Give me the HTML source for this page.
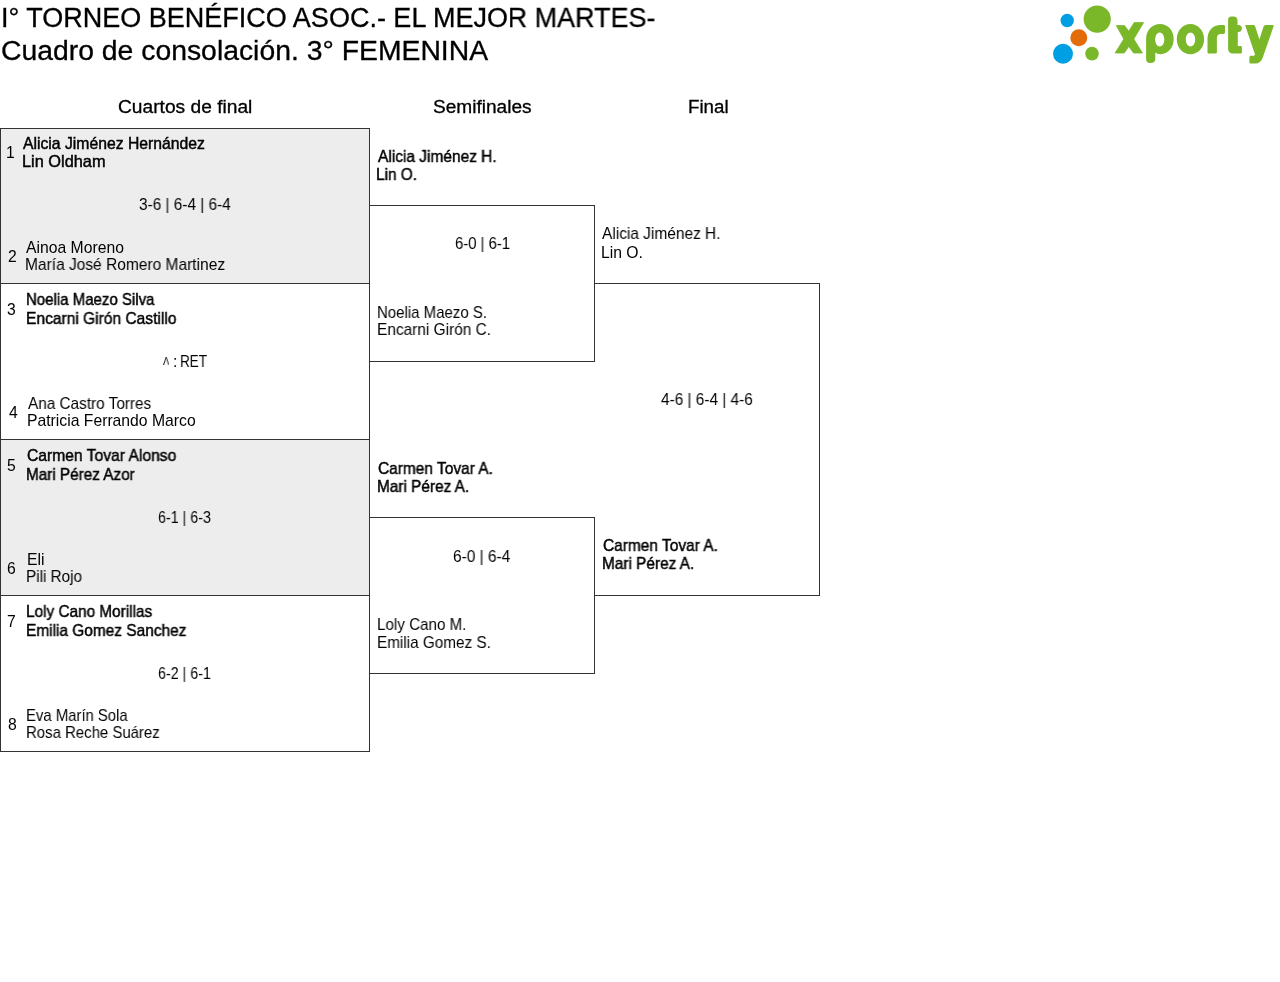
<!DOCTYPE html>
<html><head><meta charset="utf-8"><title>Cuadro de consolación</title>
<style>
html,body{margin:0;padding:0;background:#fff;}
body{width:1280px;height:982px;position:relative;overflow:hidden;font-family:"Liberation Sans",sans-serif;color:#000;}
.t{position:absolute;white-space:nowrap;transform-origin:0 0;will-change:transform;}
.ln{position:absolute;background:#333;}
</style></head><body>
<div style="position:absolute;left:1px;top:129px;width:368px;height:154px;background:#ededed"></div><div style="position:absolute;left:1px;top:440px;width:368px;height:155px;background:#ededed"></div><div class="ln" style="left:0px;top:128px;width:370px;height:1px"></div><div class="ln" style="left:0px;top:283px;width:370px;height:1px"></div><div class="ln" style="left:0px;top:439px;width:370px;height:1px"></div><div class="ln" style="left:0px;top:595px;width:370px;height:1px"></div><div class="ln" style="left:0px;top:751px;width:370px;height:1px"></div><div class="ln" style="left:0px;top:128px;width:1px;height:624px"></div><div class="ln" style="left:369px;top:128px;width:1px;height:624px"></div><div class="ln" style="left:369px;top:205px;width:226px;height:1px"></div><div class="ln" style="left:369px;top:361px;width:226px;height:1px"></div><div class="ln" style="left:594px;top:205px;width:1px;height:157px"></div><div class="ln" style="left:369px;top:517px;width:226px;height:1px"></div><div class="ln" style="left:369px;top:673px;width:226px;height:1px"></div><div class="ln" style="left:594px;top:517px;width:1px;height:157px"></div><div class="ln" style="left:594px;top:283px;width:226px;height:1px"></div><div class="ln" style="left:594px;top:595px;width:226px;height:1px"></div><div class="ln" style="left:819px;top:283px;width:1px;height:313px"></div>
<span id="t1" class="t" style="left:1.25px;top:5.04px;font-size:27px;line-height:27px;-webkit-text-stroke:0.3px #000;transform:scaleX(0.9992);">I° TORNEO BENÉFICO ASOC.- EL MEJOR MARTES-</span><span id="t2" class="t" style="left:1.43px;top:37.54px;font-size:27px;line-height:27px;-webkit-text-stroke:0.3px #000;transform:scaleX(1.0498);">Cuadro de consolación. 3° FEMENINA</span><span id="h1" class="t" style="left:118.13px;top:99.28px;font-size:17.5px;line-height:17.5px;-webkit-text-stroke:0.3px #000;transform:scaleX(1.0959);">Cuartos de final</span><span id="h2" class="t" style="left:433.14px;top:99.28px;font-size:17.5px;line-height:17.5px;-webkit-text-stroke:0.3px #000;transform:scaleX(1.0900);">Semifinales</span><span id="h3" class="t" style="left:688.13px;top:99.28px;font-size:17.5px;line-height:17.5px;-webkit-text-stroke:0.3px #000;transform:scaleX(1.0707);">Final</span><span id="n1" class="t" style="left:6.35px;top:144.71px;font-size:15.7px;line-height:15.7px;">1</span><span id="w1a" class="t" style="left:23.22px;top:136.21px;font-size:15.7px;line-height:15.7px;-webkit-text-stroke:0.45px #000;transform:scaleX(1.0029);">Alicia Jiménez Hernández</span><span id="w1b" class="t" style="left:22.17px;top:154.21px;font-size:15.7px;line-height:15.7px;-webkit-text-stroke:0.45px #000;transform:scaleX(1.0411);">Lin Oldham</span><span id="s1" class="t" style="left:138.73px;top:197.31px;font-size:15.7px;line-height:15.7px;transform:scaleX(0.9792);">3-6 | 6-4 | 6-4</span><span id="n2" class="t" style="left:7.91px;top:248.51px;font-size:15.7px;line-height:15.7px;">2</span><span id="l1a" class="t" style="left:25.76px;top:239.51px;font-size:15.7px;line-height:15.7px;transform:scaleX(1.0022);">Ainoa Moreno</span><span id="l1b" class="t" style="left:24.77px;top:257.31px;font-size:15.7px;line-height:15.7px;transform:scaleX(0.9891);">María José Romero Martinez</span><span id="n3" class="t" style="left:7.40px;top:301.71px;font-size:15.7px;line-height:15.7px;">3</span><span id="w2a" class="t" style="left:26.24px;top:292.31px;font-size:15.7px;line-height:15.7px;-webkit-text-stroke:0.45px #000;transform:scaleX(0.9567);">Noelia Maezo Silva</span><span id="w2b" class="t" style="left:26.20px;top:310.71px;font-size:15.7px;line-height:15.7px;-webkit-text-stroke:0.45px #000;transform:scaleX(0.9916);">Encarni Girón Castillo</span><span id="s2a" class="t" style="left:163.14px;top:356.73px;font-size:10px;line-height:10px;transform:scaleX(0.9285);">Λ</span><span id="s2b" class="t" style="left:172.73px;top:353.71px;font-size:15.7px;line-height:15.7px;">:</span><span id="s2c" class="t" style="left:180.14px;top:353.71px;font-size:15.7px;line-height:15.7px;transform:scaleX(0.8633);">RET</span><span id="n4" class="t" style="left:8.62px;top:405.46px;font-size:15.7px;line-height:15.7px;">4</span><span id="l2a" class="t" style="left:27.60px;top:396.46px;font-size:15.7px;line-height:15.7px;transform:scaleX(0.9770);">Ana Castro Torres</span><span id="l2b" class="t" style="left:26.58px;top:413.31px;font-size:15.7px;line-height:15.7px;transform:scaleX(1.0023);">Patricia Ferrando Marco</span><span id="n5" class="t" style="left:7.39px;top:457.71px;font-size:15.7px;line-height:15.7px;">5</span><span id="w3a" class="t" style="left:26.77px;top:448.21px;font-size:15.7px;line-height:15.7px;-webkit-text-stroke:0.45px #000;transform:scaleX(0.9971);">Carmen Tovar Alonso</span><span id="w3b" class="t" style="left:25.82px;top:466.71px;font-size:15.7px;line-height:15.7px;-webkit-text-stroke:0.45px #000;transform:scaleX(0.9747);">Mari Pérez Azor</span><span id="s3" class="t" style="left:158.09px;top:509.71px;font-size:15.7px;line-height:15.7px;transform:scaleX(0.9088);">6-1 | 6-3</span><span id="n6" class="t" style="left:7.47px;top:561.46px;font-size:15.7px;line-height:15.7px;">6</span><span id="l3a" class="t" style="left:27.20px;top:552.46px;font-size:15.7px;line-height:15.7px;transform:scaleX(1.0045);">Eli</span><span id="l3b" class="t" style="left:26.26px;top:569.31px;font-size:15.7px;line-height:15.7px;transform:scaleX(0.9744);">Pili Rojo</span><span id="n7" class="t" style="left:7.39px;top:613.71px;font-size:15.7px;line-height:15.7px;">7</span><span id="w4a" class="t" style="left:26.21px;top:604.21px;font-size:15.7px;line-height:15.7px;-webkit-text-stroke:0.45px #000;transform:scaleX(0.9776);">Loly Cano Morillas</span><span id="w4b" class="t" style="left:26.22px;top:622.71px;font-size:15.7px;line-height:15.7px;-webkit-text-stroke:0.45px #000;transform:scaleX(0.9834);">Emilia Gomez Sanchez</span><span id="s4" class="t" style="left:158.09px;top:665.71px;font-size:15.7px;line-height:15.7px;transform:scaleX(0.9088);">6-2 | 6-1</span><span id="n8" class="t" style="left:7.97px;top:717.46px;font-size:15.7px;line-height:15.7px;">8</span><span id="l4a" class="t" style="left:26.30px;top:708.46px;font-size:15.7px;line-height:15.7px;transform:scaleX(0.9478);">Eva Marín Sola</span><span id="l4b" class="t" style="left:26.30px;top:725.31px;font-size:15.7px;line-height:15.7px;transform:scaleX(0.9526);">Rosa Reche Suárez</span><span id="sw1a" class="t" style="left:377.51px;top:148.51px;font-size:15.7px;line-height:15.7px;-webkit-text-stroke:0.45px #000;transform:scaleX(0.9862);">Alicia Jiménez H.</span><span id="sw1b" class="t" style="left:376.49px;top:166.71px;font-size:15.7px;line-height:15.7px;-webkit-text-stroke:0.45px #000;transform:scaleX(0.9805);">Lin O.</span><span id="ss1" class="t" style="left:454.55px;top:236.21px;font-size:15.7px;line-height:15.7px;transform:scaleX(0.9459);">6-0 | 6-1</span><span id="sl1a" class="t" style="left:376.54px;top:304.71px;font-size:15.7px;line-height:15.7px;transform:scaleX(0.9559);">Noelia Maezo S.</span><span id="sl1b" class="t" style="left:376.50px;top:322.41px;font-size:15.7px;line-height:15.7px;transform:scaleX(0.9835);">Encarni Girón C.</span><span id="sw2a" class="t" style="left:377.61px;top:460.61px;font-size:15.7px;line-height:15.7px;-webkit-text-stroke:0.45px #000;transform:scaleX(0.9856);">Carmen Tovar A.</span><span id="sw2b" class="t" style="left:376.63px;top:478.91px;font-size:15.7px;line-height:15.7px;-webkit-text-stroke:0.45px #000;transform:scaleX(0.9798);">Mari Pérez A.</span><span id="ss2" class="t" style="left:452.55px;top:548.71px;font-size:15.7px;line-height:15.7px;transform:scaleX(0.9841);">6-0 | 6-4</span><span id="sl2a" class="t" style="left:376.63px;top:616.71px;font-size:15.7px;line-height:15.7px;transform:scaleX(0.9677);">Loly Cano M.</span><span id="sl2b" class="t" style="left:376.62px;top:635.01px;font-size:15.7px;line-height:15.7px;transform:scaleX(0.9749);">Emilia Gomez S.</span><span id="fl1a" class="t" style="left:602.49px;top:226.31px;font-size:15.7px;line-height:15.7px;transform:scaleX(0.9850);">Alicia Jiménez H.</span><span id="fl1b" class="t" style="left:601.48px;top:244.51px;font-size:15.7px;line-height:15.7px;transform:scaleX(1.0029);">Lin O.</span><span id="fs" class="t" style="left:660.89px;top:392.01px;font-size:15.7px;line-height:15.7px;transform:scaleX(0.9795);">4-6 | 6-4 | 4-6</span><span id="fw1a" class="t" style="left:602.77px;top:537.91px;font-size:15.7px;line-height:15.7px;-webkit-text-stroke:0.45px #000;transform:scaleX(0.9856);">Carmen Tovar A.</span><span id="fw1b" class="t" style="left:601.82px;top:556.21px;font-size:15.7px;line-height:15.7px;-webkit-text-stroke:0.45px #000;transform:scaleX(0.9802);">Mari Pérez A.</span>
<svg style="position:absolute;left:1040px;top:0px" width="240" height="80" viewBox="1040 0 240 80">
<g fill="#009fe3"><circle cx="1067.2" cy="20.5" r="6.7"/><circle cx="1063" cy="53.8" r="10"/></g>
<circle cx="1078.8" cy="37.8" r="8.5" fill="#e36c0a"/>
<g fill="#7ab82a">
<circle cx="1097.2" cy="19.1" r="13.6"/><circle cx="1092" cy="53.6" r="6.8"/>
<path stroke="#7ab82a" stroke-width="0.8" stroke-linejoin="round" d="M1116.3,25.6 L1124.6,25.6 L1128.75,31.2 L1134.2,22.6 L1143.6,22.6 L1133.8,39 L1142.4,53 L1133.6,53 L1128.75,46.4 L1124.3,53 L1115.1,53 L1123.8,39 Z"/>
<path fill-rule="evenodd" d="M1146.1,39 C1146.1,30.5 1152,24.1 1160,24.1 C1168,24.1 1173.7,30.5 1173.7,39.1 C1173.7,47.8 1168,54.2 1160.5,54.2 C1158.5,54.2 1156.5,53.6 1155.3,52.6 L1155.3,59 C1155.3,61.5 1153.5,63 1151,63 L1150,63 C1147.6,63 1146.1,61.5 1146.1,59 Z M1159.75,32.5 C1157.2,32.5 1155.2,35.6 1155.2,39.45 C1155.2,43.3 1157.2,46.4 1159.75,46.4 C1162.3,46.4 1164.3,43.3 1164.3,39.45 C1164.3,35.6 1162.3,32.5 1159.75,32.5 Z"/>
<path fill-rule="evenodd" d="M1190.45,24.1 C1198,24.1 1204.1,30.8 1204.1,39.15 C1204.1,47.5 1198,54.2 1190.45,54.2 C1182.9,54.2 1176.8,47.5 1176.8,39.15 C1176.8,30.8 1182.9,24.1 1190.45,24.1 Z M1190.5,32.5 C1187.9,32.5 1185.8,35.6 1185.8,39.45 C1185.8,43.3 1187.9,46.4 1190.5,46.4 C1193.1,46.4 1195.2,43.3 1195.2,39.45 C1195.2,35.6 1193.1,32.5 1190.5,32.5 Z"/>
<path d="M1207.5,52 L1207.5,39.5 C1207.5,31 1212.5,25.1 1220.6,25.1 L1223.5,25.1 C1224.5,25.1 1225,25.8 1225,26.8 L1225,32 C1225,33 1224.5,33.9 1223.5,33.9 L1220.5,33.9 C1218.2,33.9 1216.9,35.5 1216.9,38.3 L1216.9,52 C1216.9,53 1216.2,53.6 1215.3,53.6 L1209,53.6 C1208.1,53.6 1207.5,53 1207.5,52 Z"/>
<path d="M1228.1,19.7 C1228.1,17.9 1229.4,16.6 1231.3,16.6 L1233.5,16.6 C1235.8,16.6 1237.5,18.2 1237.5,20.5 L1237.5,25.1 L1238.6,25.1 C1240.5,25.1 1241.9,26.6 1241.9,28.5 C1241.9,30.4 1240.5,32 1238.6,32 L1237.8,32 L1237.8,46 L1240.5,46 C1241.3,46 1241.9,46.6 1241.9,47.4 L1241.9,52.3 C1241.9,53 1241.3,53.6 1240.5,53.6 L1233,53.6 C1230.2,53.6 1228.1,51.5 1228.1,48.7 Z"/>
<path d="M1245.3,25.8 C1245.3,25.4 1245.6,25.1 1246,25.1 L1253.5,25.1 C1254.3,25.1 1255,25.7 1255.2,26.4 L1259.4,39.5 L1263.6,26.6 C1264,25.7 1264.9,25.1 1265.9,25.1 L1273,25.1 C1273.5,25.1 1273.9,25.6 1273.7,26.1 L1262.7,57.8 C1261.3,61.6 1258.7,63.6 1255.5,63.6 L1250.8,63.6 C1250,63.6 1249.4,63 1249.4,62.2 L1249.4,57.2 C1249.4,56.4 1250,55.75 1250.8,55.75 L1252.8,55.75 C1254,55.75 1254.9,55.3 1255,54.5 Z"/>
</g>
</svg>

</body></html>
